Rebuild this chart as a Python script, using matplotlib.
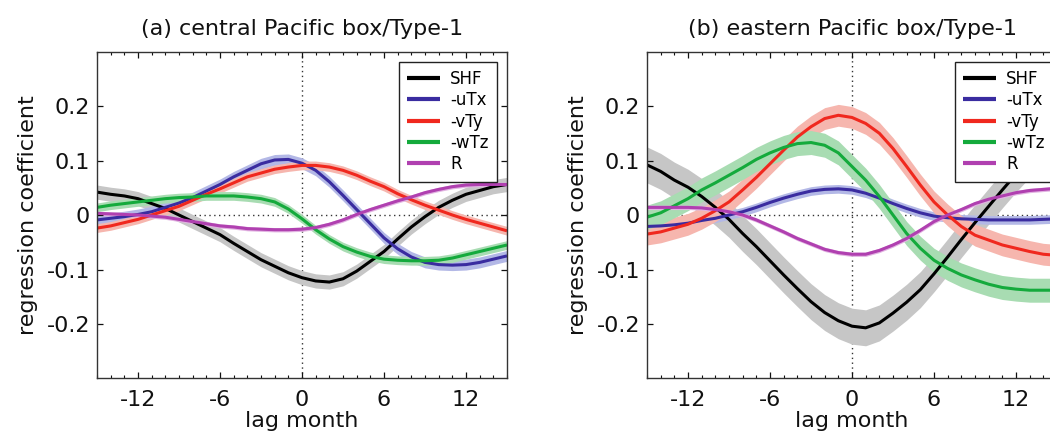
import matplotlib
matplotlib.use("Agg")
import matplotlib.pyplot as plt
import numpy as np
from matplotlib.ticker import MultipleLocator

plt.rcParams['font.family'] = ['DejaVu Sans']

months = list(range(-15, 16))
series_names = ['SHF', '-uTx', '-vTy', '-wTz', 'R']
titles = ['(a) central Pacific box/Type-1', '(b) eastern Pacific box/Type-1']

# panel (a): central Pacific box
shf_a = [0.042, 0.038, 0.035, 0.030, 0.021, 0.012, 0.000, -0.012, -0.024, -0.036, -0.052,
         -0.067, -0.082, -0.094, -0.106, -0.115, -0.121, -0.123, -0.117, -0.103, -0.085,
         -0.067, -0.044, -0.022, -0.003, 0.014, 0.027, 0.038, 0.045, 0.052, 0.056]
utx_a = [-0.009, -0.006, -0.003, 0.001, 0.006, 0.014, 0.022, 0.032, 0.044, 0.056, 0.070,
         0.082, 0.094, 0.101, 0.102, 0.095, 0.082, 0.061, 0.036, 0.010, -0.016,
         -0.042, -0.062, -0.077, -0.087, -0.091, -0.092, -0.091, -0.087, -0.081, -0.075]
vty_a = [-0.024, -0.020, -0.014, -0.008, 0.000, 0.008, 0.016, 0.027, 0.038, 0.048, 0.059,
         0.070, 0.077, 0.084, 0.088, 0.091, 0.091, 0.088, 0.082, 0.073, 0.062,
         0.052, 0.039, 0.028, 0.018, 0.009, 0.000, -0.008, -0.015, -0.022, -0.029]
wtz_a = [0.014, 0.018, 0.021, 0.024, 0.027, 0.030, 0.032, 0.033, 0.035, 0.035, 0.035,
         0.033, 0.030, 0.024, 0.011, -0.007, -0.027, -0.044, -0.058, -0.068, -0.076,
         -0.081, -0.083, -0.084, -0.084, -0.083, -0.079, -0.073, -0.067, -0.061, -0.055]
r_a = [0.003, 0.002, 0.001, 0.000, -0.002, -0.004, -0.008, -0.012, -0.016, -0.020, -0.022,
       -0.025, -0.026, -0.027, -0.027, -0.026, -0.023, -0.017, -0.009, 0.001, 0.010,
       0.018, 0.026, 0.033, 0.041, 0.047, 0.052, 0.055, 0.056, 0.056, 0.056]

# panel (b): eastern Pacific box
shf_b = [0.092, 0.080, 0.064, 0.051, 0.034, 0.014, -0.008, -0.034, -0.058, -0.084, -0.110,
         -0.135, -0.159, -0.179, -0.194, -0.204, -0.207, -0.198, -0.180, -0.160, -0.137,
         -0.108, -0.077, -0.045, -0.014, 0.016, 0.046, 0.075, 0.102, 0.125, 0.145]
utx_b = [-0.021, -0.020, -0.018, -0.015, -0.010, -0.006, 0.000, 0.006, 0.014, 0.023, 0.031,
         0.038, 0.044, 0.047, 0.048, 0.046, 0.040, 0.031, 0.021, 0.012, 0.004,
         -0.002, -0.005, -0.007, -0.008, -0.009, -0.009, -0.009, -0.009, -0.008, -0.007]
vty_b = [-0.035, -0.031, -0.024, -0.017, -0.006, 0.008, 0.024, 0.046, 0.069, 0.094, 0.119,
         0.143, 0.162, 0.177, 0.183, 0.179, 0.168, 0.150, 0.122, 0.089, 0.055,
         0.024, 0.000, -0.021, -0.037, -0.046, -0.055, -0.061, -0.067, -0.072, -0.074]
wtz_b = [-0.004, 0.004, 0.017, 0.030, 0.046, 0.059, 0.073, 0.087, 0.102, 0.114, 0.124,
         0.131, 0.133, 0.128, 0.114, 0.089, 0.064, 0.034, 0.000, -0.034, -0.061,
         -0.083, -0.098, -0.110, -0.119, -0.127, -0.133, -0.136, -0.138, -0.138, -0.138]
r_b = [0.014, 0.014, 0.014, 0.014, 0.013, 0.010, 0.006, 0.000, -0.009, -0.020, -0.031,
       -0.043, -0.053, -0.063, -0.069, -0.072, -0.072, -0.065, -0.055, -0.043, -0.028,
       -0.012, 0.000, 0.010, 0.021, 0.029, 0.035, 0.041, 0.045, 0.047, 0.049]

# half-width of the shaded uncertainty bands
band_a = [0.013, 0.010, 0.008, 0.008, 0.004]
band_b = [0.033, 0.008, 0.020, 0.022, 0.004]

xticks = [-12, -6, 0, 6, 12]
yticks = [-0.2, -0.1, 0, 0.1, 0.2]
ytick_labels = ['-0.2', '-0.1', '0', '0.1', '0.2']

line_colors = ['#000000', '#3a2ca0', '#f0281e', '#14aa3c', '#b040b0']
band_colors = ['#c6c6c6', '#b3b8e6', '#f6b6ae', '#a8dcb2', '#e2b4e2']

panels = [
    (titles[0], [shf_a, utx_a, vty_a, wtz_a, r_a], band_a),
    (titles[1], [shf_b, utx_b, vty_b, wtz_b, r_b], band_b),
]

fig = plt.figure(figsize=(10.5, 4.43), dpi=100)
positions = [[97/1050, 0.1456, 410/1050, 0.7381],
             [647/1050, 0.1456, 410/1050, 0.7381]]
legend_anchor_x = [1.0, 1.0 + 6/410]

for pos, anchor_x, (title, data, bands) in zip(positions, legend_anchor_x, panels):
    ax = fig.add_axes(pos)
    x = np.array(months)
    for name, vals, hw, lc, bc in zip(series_names, data, bands, line_colors, band_colors):
        v = np.array(vals)
        ax.fill_between(x, v - hw, v + hw, color=bc, linewidth=0)
        ax.plot(x, v, color=lc, lw=2.2, label=name, solid_capstyle='butt')
    ax.axhline(0, color='#333333', ls=(0, (1, 2.5)), lw=1.0, zorder=0.5)
    ax.axvline(0, color='#333333', ls=(0, (1, 2.5)), lw=1.0, zorder=0.5)
    ax.set_xlim(-15, 15)
    ax.set_ylim(-0.3, 0.3)
    ax.set_xticks(xticks)
    ax.set_xticklabels([str(t) for t in xticks])
    ax.xaxis.set_minor_locator(MultipleLocator(1))
    ax.set_yticks(yticks)
    ax.set_yticklabels(ytick_labels)
    ax.tick_params(which='both', direction='in', top=True, right=True,
                   labelsize=16, colors='#111111')
    ax.tick_params(which='major', length=4, width=0.9)
    ax.tick_params(which='minor', length=2.5, width=0.8)
    ax.tick_params(axis='x', pad=8)
    ax.tick_params(axis='y', pad=5)
    for sp in ax.spines.values():
        sp.set_color('#333333')
        sp.set_linewidth(1.0)
    ax.set_title(title, fontsize=16, pad=12, color='#111111')
    ax.set_xlabel('lag month', fontsize=16, labelpad=1, color='#111111')
    ax.set_ylabel('regression coefficient', fontsize=16, labelpad=6, color='#111111')
    leg = ax.legend(loc='upper right', bbox_to_anchor=(anchor_x, 1.0),
                    fontsize=12, frameon=True, fancybox=False,
                    edgecolor='#222222', framealpha=1, borderaxespad=0.6,
                    handlelength=2.0, handletextpad=0.6, labelspacing=0.2,
                    borderpad=0.5)
    leg.get_frame().set_linewidth(1.0)
    for lh in leg.get_lines():
        lh.set_linewidth(3)

fig.savefig('out.png', dpi=100)
